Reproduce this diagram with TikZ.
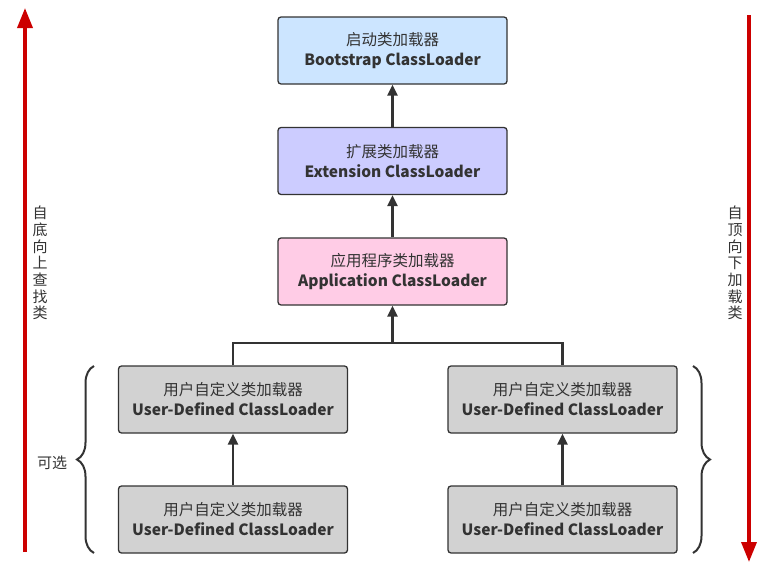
\documentclass[tikz,border=0pt]{standalone}
\usepackage{fontspec}
\setmainfont{Noto Sans CJK SC}
\usepackage{xcolor}
\usetikzlibrary{positioning,arrows.meta,decorations.pathreplacing}

\definecolor{bootblue}{HTML}{CCE5FF}
\definecolor{extviolet}{HTML}{CCCCFF}
\definecolor{apppink}{HTML}{FFCCE6}
\definecolor{usergray}{HTML}{D2D2D2}
\definecolor{inkgray}{HTML}{333333}
\definecolor{flowred}{HTML}{CC0000}

\tikzset{
  loader/.style={draw=inkgray, line width=1.3pt, rounded corners=3pt,
    minimum width=229pt, minimum height=67pt, inner sep=0pt,
    align=center, text=inkgray},
  link/.style={draw=inkgray, line width=2.2pt, -{Triangle[length=11pt,width=10pt]}},
  flow/.style={draw=flowred, line width=3.5pt, -{Triangle[length=20pt,width=15pt]}},
  vlabel/.style={align=center, text=inkgray, font=\fontsize{15}{16.7}\selectfont},
  curly/.style={draw=inkgray, line width=2pt, decorate,
    decoration={brace, amplitude=17pt}}
}

\begin{document}
\begin{tikzpicture}[x=1pt, y=-1pt, font=\fontsize{15.5}{20}\selectfont]
\useasboundingbox (0,0) rectangle (780,570);
% parent chain
\node[loader, fill=bootblue] (boot) at (392.5,50.5) {启动类加载器\\\textbf{Bootstrap ClassLoader}};
\node[loader, fill=extviolet] (ext) at (392.5,161) {扩展类加载器\\\textbf{Extension ClassLoader}};
\node[loader, fill=apppink] (app) at (392.5,271.5) {应用程序类加载器\\\textbf{Application ClassLoader}};
% optional user-defined loaders, two columns
\foreach \name/\x/\y in {ud1/233/399.5, ud2/562.5/399.5, ud3/233/519.5, ud4/562.5/519.5}{
  \node[loader, fill=usergray] (\name) at (\x,\y) {用户自定义类加载器\\\textbf{User-Defined ClassLoader}};
}
\draw[link] (ext) -- (boot);
\draw[link] (app) -- (ext);
\draw[link] (ud3) -- (ud1);
\draw[link] (ud4) -- (ud2);
\coordinate (join) at (392.5,343);
\draw[inkgray, line width=2.2pt] (ud1.north) |- (join) -| (ud2.north);
\draw[link] (join) -- (app.south);
% delegation directions
\coordinate (upfrom) at (25,552);
\coordinate (upto) at (25,8);
\draw[flow] (upfrom) -- (upto);
\coordinate (downfrom) at (749,15);
\coordinate (downto) at (749,562);
\draw[flow] (downfrom) -- (downto);
\node[vlabel] (uplabel) at (40,263) {自\\底\\向\\上\\查\\找\\类};
\node[vlabel] (downlabel) at (735,263) {自\\顶\\向\\下\\加\\载\\类};
% braces round the optional part
\draw[curly] (94,553) -- (94,366);
\draw[curly] (693,366) -- (693,553);
\node[text=inkgray, font=\fontsize{15}{18}\selectfont] (optional) at (52,463) {可选};
\end{tikzpicture}
\end{document}
